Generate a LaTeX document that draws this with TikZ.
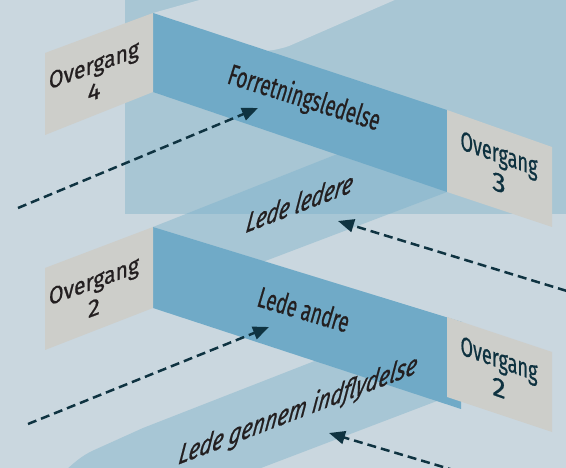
\documentclass[tikz,border=0pt]{standalone}
\usepackage{fontspec}
\setmainfont{Fira Sans}
\newfontfamily\lblfont{Fira Sans}[FakeBold=0.8]
\usetikzlibrary{arrows.meta}
\definecolor{bgc}{RGB}{202,215,223}
\definecolor{rectc}{RGB}{168,198,212}
\definecolor{facec}{RGB}{112,170,199}
\definecolor{grayc}{RGB}{205,206,202}
\definecolor{ribL}{RGB}{167,198,213}
\definecolor{ribD}{RGB}{147,188,208}
\definecolor{txtc}{RGB}{35,31,32}
\definecolor{tealc}{RGB}{14,50,64}
\definecolor{arrc}{RGB}{15,51,65}
\newcommand{\fitw}[2]{\resizebox{#1}{\height}{#2}}
\begin{document}
\begin{tikzpicture}[x=1pt,y=-1pt,
  bluef/.style={fill=facec},
  grayf/.style={fill=grayc},
  lefttext/.style={inner sep=0pt, align=center, text=txtc, font=\lblfont\fontsize{24}{27}\selectfont, transform shape},
  righttext/.style={inner sep=0pt, align=center, text=tealc, font=\lblfont\fontsize{27}{29}\selectfont, transform shape},
  facelabel/.style={inner sep=0pt, text=txtc, font=\lblfont\fontsize{29}{30}\selectfont, transform shape},
  ribbonlabel/.style={inner sep=0pt, text=txtc, font=\lblfont\fontsize{30}{32}\selectfont\itshape, transform shape},
  dasharrow/.style={draw=arrc, line width=2.5pt, dash pattern=on 9pt off 5pt, -{Triangle[length=16pt,width=13pt]}},
]
\useasboundingbox (0,0) rectangle (566,468);
\clip (0,0) rectangle (566,468);
\fill[bgc] (0,0) rectangle (566,468);
% big light-blue block
\fill[rectc] (125,0) rectangle (566,214);
% light band at top
\fill[bgc] (153,13) -- (203,-1) -- (397,-1) -- (289,46) .. controls (282,48.5) and (275,50) .. (266,51) -- (262,53) -- cycle;
% ribbon "Lede ledere"
\fill[ribL] (153,227) -- (345,151) -- (447,150) -- (447,192) -- (260,263) -- cycle;
\begin{scope}
  \clip (125,0) rectangle (566,214);
  \fill[ribD] (153,227) -- (345,151) -- (447,150) -- (447,192) -- (260,263) -- cycle;
\end{scope}
% ribbon "Lede gennem indflydelse"
\fill[ribL] (60,480) -- (66,470) .. controls (76,461) and (82,456) .. (92,451) -- (143,428) -- (330,355) -- (440,392) -- (437,401) -- (240,476) -- cycle;
% blue faces
\fill[bluef] (153,13) -- (447,110) -- (447,192) -- (153,92) -- cycle;
\fill[bluef] (153,227) -- (462,322) -- (461,409) -- (153,308) -- cycle;
% gray faces
\fill[grayf] (45,53) -- (153,13) -- (153,92) -- (45,135) -- cycle;
\fill[grayf] (447,110) -- (552,147) -- (552,227) -- (447,192) -- cycle;
\fill[grayf] (45,268) -- (153,227) -- (153,308) -- (45,350) -- cycle;
\fill[grayf] (447,317) -- (552,352) -- (552,432) -- (447,397) -- cycle;
% texts on gray faces
\begin{scope}[shift={(94,78)}, yslant=0.37]
  \node[lefttext] (ov4) {\fitw{90pt}{Overgang}\\4};
\end{scope}
\begin{scope}[shift={(94,294)}, yslant=0.37]
  \node[lefttext] (ov2l) {\fitw{90pt}{Overgang}\\2};
\end{scope}
\begin{scope}[shift={(499,168)}, yslant=-0.35]
  \node[righttext] (ov3) {\fitw{77pt}{Overgang}\\3};
\end{scope}
\begin{scope}[shift={(499,373)}, yslant=-0.35]
  \node[righttext] (ov2r) {\fitw{77pt}{Overgang}\\2};
\end{scope}
% texts on blue faces
\begin{scope}[shift={(304,99)}, rotate=-17.5]
  \node[facelabel] (forr) {\fitw{158pt}{Forretningsledelse}};
\end{scope}
\begin{scope}[shift={(304,309)}, rotate=-16.5]
  \node[facelabel] (andre) {\fitw{94pt}{Lede andre}};
\end{scope}
% texts on ribbons
\begin{scope}[shift={(300,202)}, cm={0.934,0.358,0.164,0.97,(0,0)}]
  \node[ribbonlabel] (ledere) {\fitw{114pt}{Lede ledere}};
\end{scope}
\begin{scope}[shift={(298,411)}, cm={0.934,0.358,0.164,0.97,(0,0)}]
  \node[ribbonlabel] (indfl) {\fitw{255pt}{Lede gennem indflydelse}};
\end{scope}
% arrows
\coordinate (a1s) at (18,208);
\coordinate (a1e) at (258,108);
\coordinate (a2s) at (580,295);
\coordinate (a2e) at (338,221);
\coordinate (a3s) at (28,424);
\coordinate (a3e) at (269,327);
\coordinate (a4s) at (470,475);
\coordinate (a4e) at (329,433);
\draw[dasharrow] (a1s) -- (a1e);
\draw[dasharrow] (a2s) -- (a2e);
\draw[dasharrow] (a3s) -- (a3e);
\draw[dasharrow] (a4s) -- (a4e);
\end{tikzpicture}
\end{document}
